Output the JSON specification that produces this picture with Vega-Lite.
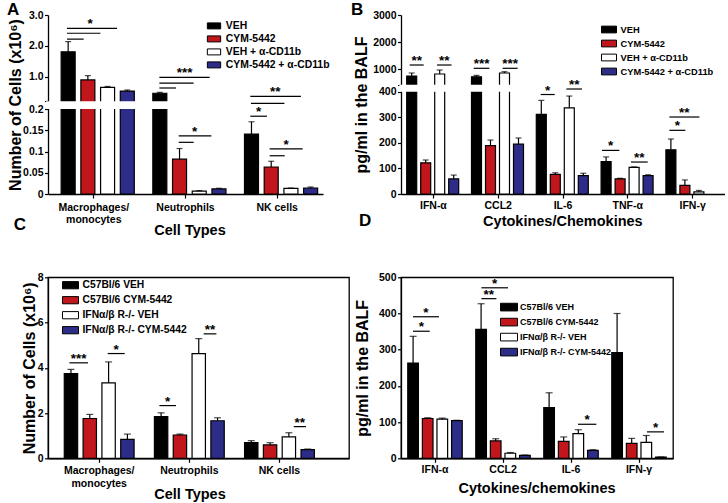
{
  "$schema": "https://vega.github.io/schema/vega-lite/v6.json",
  "background": "white",
  "padding": {"left": 7, "top": 0, "right": 0, "bottom": 2},
  "columns": 2,
  "spacing": {"row": 83.3, "column": 52},
  "bounds": "flush",
  "align": "each",
  "resolve": {"scale": {"color": "independent", "x": "independent", "y": "independent", "xOffset": "independent"}, "legend": {"color": "independent"}},
  "datasets": {
    "A": [
      {"g": "Macrophages/monocytes", "s": "VEH", "v": 1.81, "e": 2.14},
      {"g": "Macrophages/monocytes", "s": "CYM-5442", "v": 0.9, "e": 1.04},
      {"g": "Macrophages/monocytes", "s": "VEH + α-CD11b", "v": 0.66, "e": 0.69},
      {"g": "Macrophages/monocytes", "s": "CYM-5442 + α-CD11b", "v": 0.54, "e": 0.575},
      {"g": "Neutrophils", "s": "VEH", "v": 0.47, "e": 0.5},
      {"g": "Neutrophils", "s": "CYM-5442", "v": 0.082, "e": 0.107},
      {"g": "Neutrophils", "s": "VEH + α-CD11b", "v": 0.007, "e": 0.008},
      {"g": "Neutrophils", "s": "CYM-5442 + α-CD11b", "v": 0.012, "e": 0.0135},
      {"g": "NK cells", "s": "VEH", "v": 0.141, "e": 0.17},
      {"g": "NK cells", "s": "CYM-5442", "v": 0.0635, "e": 0.077},
      {"g": "NK cells", "s": "VEH + α-CD11b", "v": 0.0134, "e": 0.014},
      {"g": "NK cells", "s": "CYM-5442 + α-CD11b", "v": 0.0141, "e": 0.0165}
    ],
    "Abr": [
      {"x1": 0.207, "x2": 0.753, "y": 2.57, "t": "*", "xt": 0.46},
      {"x1": 0.207, "x2": 0.572, "y": 2.41},
      {"x1": 0.207, "x2": 0.389, "y": 2.22},
      {"x1": 1.215, "x2": 1.764, "y": 0.986, "t": "***", "xt": 1.49},
      {"x1": 1.215, "x2": 1.589, "y": 0.8},
      {"x1": 1.215, "x2": 1.396, "y": 0.64},
      {"x1": 1.426, "x2": 1.782, "y": 0.137, "t": "*", "xt": 1.6},
      {"x1": 1.426, "x2": 1.589, "y": 0.1216},
      {"x1": 2.207, "x2": 2.759, "y": 0.372, "t": "**", "xt": 2.48},
      {"x1": 2.214, "x2": 2.579, "y": 0.2074},
      {"x1": 2.207, "x2": 2.389, "y": 0.183, "t": "*", "xt": 2.298},
      {"x1": 2.418, "x2": 2.778, "y": 0.106, "t": "*", "xt": 2.598},
      {"x1": 2.418, "x2": 2.582, "y": 0.09}
    ],
    "Amask": [{"x1": -0.02, "x2": 3, "lo": 0.2, "hi": 0.21}],
    "B": [
      {"g": "IFN-α", "s": "VEH", "v": 742, "e": 853},
      {"g": "IFN-α", "s": "CYM-5442", "v": 122, "e": 133},
      {"g": "IFN-α", "s": "VEH + α-CD11b", "v": 816, "e": 964},
      {"g": "IFN-α", "s": "CYM-5442 + α-CD11b", "v": 59, "e": 74},
      {"g": "CCL2", "s": "VEH", "v": 715, "e": 765},
      {"g": "CCL2", "s": "CYM-5442", "v": 189, "e": 211},
      {"g": "CCL2", "s": "VEH + α-CD11b", "v": 853, "e": 901},
      {"g": "CCL2", "s": "CYM-5442 + α-CD11b", "v": 195, "e": 219},
      {"g": "IL-6", "s": "VEH", "v": 311, "e": 366},
      {"g": "IL-6", "s": "CYM-5442", "v": 77, "e": 83},
      {"g": "IL-6", "s": "VEH + α-CD11b", "v": 337, "e": 383},
      {"g": "IL-6", "s": "CYM-5442 + α-CD11b", "v": 72, "e": 81},
      {"g": "TNF-α", "s": "VEH", "v": 127, "e": 145},
      {"g": "TNF-α", "s": "CYM-5442", "v": 59, "e": 61.5},
      {"g": "TNF-α", "s": "VEH + α-CD11b", "v": 104, "e": 106},
      {"g": "TNF-α", "s": "CYM-5442 + α-CD11b", "v": 72, "e": 75},
      {"g": "IFN-γ", "s": "VEH", "v": 173, "e": 215},
      {"g": "IFN-γ", "s": "CYM-5442", "v": 34, "e": 55},
      {"g": "IFN-γ", "s": "VEH + α-CD11b", "v": 8, "e": 14}
    ],
    "Bbr": [
      {"x1": 0.134, "x2": 0.35, "y": 1149, "t": "**", "xt": 0.242},
      {"x1": 0.556, "x2": 0.78, "y": 1149, "t": "**", "xt": 0.668},
      {"x1": 1.122, "x2": 1.364, "y": 1027, "t": "***", "xt": 1.243},
      {"x1": 1.569, "x2": 1.8, "y": 1027, "t": "***", "xt": 1.685},
      {"x1": 2.156, "x2": 2.372, "y": 389, "t": "*", "xt": 2.264},
      {"x1": 2.552, "x2": 2.793, "y": 407.7, "t": "**", "xt": 2.672},
      {"x1": 3.102, "x2": 3.37, "y": 170.5, "t": "*", "xt": 3.236},
      {"x1": 3.549, "x2": 3.807, "y": 125, "t": "**", "xt": 3.678},
      {"x1": 4.142, "x2": 4.605, "y": 301, "t": "**", "xt": 4.373},
      {"x1": 4.142, "x2": 4.389, "y": 249, "t": "*", "xt": 4.265}
    ],
    "Bmask": [{"x1": -0.025, "x2": 5, "lo": 400, "hi": 420}],
    "C": [
      {"g": "Macrophages/monocytes", "s": "C57Bl/6 VEH", "v": 3.74, "e": 3.93},
      {"g": "Macrophages/monocytes", "s": "C57Bl/6 CYM-5442", "v": 1.76, "e": 1.94},
      {"g": "Macrophages/monocytes", "s": "IFNα/β R-/- VEH", "v": 3.33, "e": 4.26},
      {"g": "Macrophages/monocytes", "s": "IFNα/β R-/- CYM-5442", "v": 0.84, "e": 1.07},
      {"g": "Neutrophils", "s": "C57Bl/6 VEH", "v": 1.84, "e": 2.01},
      {"g": "Neutrophils", "s": "C57Bl/6 CYM-5442", "v": 1.03, "e": 1.07},
      {"g": "Neutrophils", "s": "IFNα/β R-/- VEH", "v": 4.63, "e": 5.29},
      {"g": "Neutrophils", "s": "IFNα/β R-/- CYM-5442", "v": 1.66, "e": 1.79},
      {"g": "NK cells", "s": "C57Bl/6 VEH", "v": 0.69, "e": 0.78},
      {"g": "NK cells", "s": "C57Bl/6 CYM-5442", "v": 0.59, "e": 0.69},
      {"g": "NK cells", "s": "IFNα/β R-/- VEH", "v": 0.95, "e": 1.13},
      {"g": "NK cells", "s": "IFNα/β R-/- CYM-5442", "v": 0.38, "e": 0.41}
    ],
    "Cbr": [
      {"x1": 0.17, "x2": 0.376, "y": 4.22, "t": "***", "xt": 0.273},
      {"x1": 0.595, "x2": 0.783, "y": 4.63, "t": "*", "xt": 0.689},
      {"x1": 1.168, "x2": 1.352, "y": 2.33, "t": "*", "xt": 1.26},
      {"x1": 1.659, "x2": 1.8, "y": 5.5, "t": "**", "xt": 1.73},
      {"x1": 2.658, "x2": 2.794, "y": 1.4, "t": "**", "xt": 2.726}
    ],
    "D": [
      {"g": "IFN-α", "s": "C57Bl/6 VEH", "v": 263, "e": 337},
      {"g": "IFN-α", "s": "C57Bl/6 CYM-5442", "v": 110, "e": 112},
      {"g": "IFN-α", "s": "IFNα/β R-/- VEH", "v": 108, "e": 111},
      {"g": "IFN-α", "s": "IFNα/β R-/- CYM-5442", "v": 104, "e": 105},
      {"g": "CCL2", "s": "C57Bl/6 VEH", "v": 356, "e": 427},
      {"g": "CCL2", "s": "C57Bl/6 CYM-5442", "v": 48, "e": 54},
      {"g": "CCL2", "s": "IFNα/β R-/- VEH", "v": 14, "e": 16},
      {"g": "CCL2", "s": "IFNα/β R-/- CYM-5442", "v": 8, "e": 9},
      {"g": "IL-6", "s": "C57Bl/6 VEH", "v": 140, "e": 181},
      {"g": "IL-6", "s": "C57Bl/6 CYM-5442", "v": 47, "e": 59},
      {"g": "IL-6", "s": "IFNα/β R-/- VEH", "v": 68, "e": 79},
      {"g": "IL-6", "s": "IFNα/β R-/- CYM-5442", "v": 22, "e": 23.5},
      {"g": "IFN-γ", "s": "C57Bl/6 VEH", "v": 292, "e": 400},
      {"g": "IFN-γ", "s": "C57Bl/6 CYM-5442", "v": 41, "e": 55},
      {"g": "IFN-γ", "s": "IFNα/β R-/- VEH", "v": 44, "e": 63},
      {"g": "IFN-γ", "s": "IFNα/β R-/- CYM-5442", "v": 3, "e": 3.5}
    ],
    "Dbr": [
      {"x1": 0.176, "x2": 0.422, "y": 351, "t": "*", "xt": 0.3},
      {"x1": 0.176, "x2": 0.559, "y": 391, "t": "*", "xt": 0.367},
      {"x1": 1.182, "x2": 1.403, "y": 441, "t": "**", "xt": 1.29},
      {"x1": 1.182, "x2": 1.574, "y": 471, "t": "*", "xt": 1.378},
      {"x1": 2.603, "x2": 2.873, "y": 94, "t": "*", "xt": 2.738},
      {"x1": 3.618, "x2": 3.868, "y": 73, "t": "*", "xt": 3.743}
    ]
  },
  "concat": [
    {
      "width": 275, "height": 179,
      "title": {"text": "A", "dx": -41, "offset": -8.5},
      "layer": [
        {
          "data": {"name": "A"},
          "layer": [
            {"mark": {"type": "bar", "stroke": "black", "strokeWidth": 1.2},
             "encoding": {
               "x": {"field": "g", "type": "nominal", "scale": {"domain": ["Macrophages/monocytes", "Neutrophils", "NK cells"], "paddingInner": 0, "paddingOuter": 0},
                     "axis": {"title": "Cell Types", "labelOverlap": false, "labelExpr": "datum.value == 'Macrophages/monocytes' ? ['Macrophages/', 'monocytes'] : datum.value", "labelPadding": 4, "titleX": 141.5, "titleY": 40}},
               "xOffset": {"field": "s", "type": "nominal", "scale": {"domain": ["VEH", "CYM-5442", "VEH + α-CD11b", "CYM-5442 + α-CD11b"], "paddingInner": 0.29, "paddingOuter": 0.47, "align": 0.71}},
               "y": {"field": "v", "type": "quantitative", "scale": {"domain": [0, 0.2, 0.21, 3], "range": [179, 94, 86.3, 0], "nice": false, "zero": false},
                     "axis": {"title": "Number of Cells (x10⁶)", "labelOverlap": false, "tickCount": 30, "values": [0, 0.05, 0.1, 0.15, 0.2, 0.21, 1, 2, 3], "labelExpr": "datum.value == 0.21 ? '' : (datum.value >= 1 ? format(datum.value, '.1f') : format(datum.value, '~g'))", "titleX": -27.8, "titleY": 89.5}},
               "color": {"field": "s", "type": "nominal", "scale": {"domain": ["VEH", "CYM-5442", "VEH + α-CD11b", "CYM-5442 + α-CD11b"], "range": ["#000000", "#c1161c", "#ffffff", "#2d2c88"]},
                         "legend": {"title": null, "orient": "none", "legendX": 158.5, "legendY": 3.4, "symbolSize": 177, "labelFontSize": 10.4, "rowPadding": -1.5, "labelOffset": 4.3, "symbolStrokeColor": "black", "symbolStrokeWidth": 1}}
             }},
            {"mark": {"type": "rule", "strokeWidth": 1.2, "color": "black"},
             "encoding": {
               "x": {"field": "g", "type": "nominal", "scale": {"domain": ["Macrophages/monocytes", "Neutrophils", "NK cells"], "paddingInner": 0, "paddingOuter": 0}},
               "xOffset": {"field": "s", "type": "nominal", "scale": {"domain": ["VEH", "CYM-5442", "VEH + α-CD11b", "CYM-5442 + α-CD11b"], "paddingInner": 0.29, "paddingOuter": 0.47, "align": 0.71}},
               "y": {"field": "v", "type": "quantitative", "scale": {"domain": [0, 0.2, 0.21, 3], "range": [179, 94, 86.3, 0], "nice": false, "zero": false}},
               "y2": {"field": "e"}
             }},
            {"mark": {"type": "tick", "thickness": 1.2, "size": 6, "color": "black"},
             "encoding": {
               "x": {"field": "g", "type": "nominal", "scale": {"domain": ["Macrophages/monocytes", "Neutrophils", "NK cells"], "paddingInner": 0, "paddingOuter": 0}},
               "xOffset": {"field": "s", "type": "nominal", "scale": {"domain": ["VEH", "CYM-5442", "VEH + α-CD11b", "CYM-5442 + α-CD11b"], "paddingInner": 0.29, "paddingOuter": 0.47, "align": 0.71}},
               "y": {"field": "e", "type": "quantitative", "scale": {"domain": [0, 0.2, 0.21, 3], "range": [179, 94, 86.3, 0], "nice": false, "zero": false}}
             }}
          ]
        },
        {
          "layer": [
            {"data": {"name": "Amask"}, "mark": {"type": "rect", "fill": "white"},
             "encoding": {
               "x": {"field": "x1", "type": "quantitative", "scale": {"domain": [0, 3], "nice": false, "zero": false}, "axis": null},
               "x2": {"field": "x2"},
               "y": {"field": "lo", "type": "quantitative", "scale": {"domain": [0, 0.2, 0.21, 3], "range": [179, 94, 86.3, 0], "nice": false, "zero": false}},
               "y2": {"field": "hi"}
             }},
            {"data": {"name": "Abr"}, "mark": {"type": "rule", "strokeWidth": 1.2, "color": "black"},
             "encoding": {
               "x": {"field": "x1", "type": "quantitative", "scale": {"domain": [0, 3], "nice": false, "zero": false}, "axis": null},
               "x2": {"field": "x2"},
               "y": {"field": "y", "type": "quantitative", "scale": {"domain": [0, 0.2, 0.21, 3], "range": [179, 94, 86.3, 0], "nice": false, "zero": false}}
             }},
            {"data": {"name": "Abr"}, "transform": [{"filter": "datum.t"}],
             "mark": {"type": "text", "fontSize": 13.5, "fontWeight": "bold", "baseline": "alphabetic", "align": "center", "color": "black"},
             "encoding": {
               "x": {"field": "xt", "type": "quantitative", "scale": {"domain": [0, 3], "nice": false, "zero": false}, "axis": null},
               "y": {"field": "y", "type": "quantitative", "scale": {"domain": [0, 0.2, 0.21, 3], "range": [179, 94, 86.3, 0], "nice": false, "zero": false}},
               "text": {"field": "t"}
             }}
          ]
        }
      ],
      "resolve": {"scale": {"x": "independent"}, "axis": {"x": "independent"}}
    },
    {
      "width": 324, "height": 179,
      "title": {"text": "B", "dx": -50, "offset": -8.5},
      "layer": [
        {
          "data": {"name": "B"},
          "layer": [
            {"mark": {"type": "bar", "stroke": "black", "strokeWidth": 1.2},
             "encoding": {
               "x": {"field": "g", "type": "nominal", "scale": {"domain": ["IFN-α", "CCL2", "IL-6", "TNF-α", "IFN-γ"], "paddingInner": 0, "paddingOuter": 0},
                     "axis": {"title": "Cytokines/Chemokines", "labelOverlap": false, "labelPadding": 2.5, "titleX": 161.4, "titleY": 31}},
               "xOffset": {"field": "s", "type": "nominal", "scale": {"domain": ["VEH", "CYM-5442", "VEH + α-CD11b", "CYM-5442 + α-CD11b"], "paddingInner": 0.286, "paddingOuter": 0.457, "align": 0.445}},
               "y": {"field": "v", "type": "quantitative", "scale": {"domain": [0, 400, 420, 3000], "range": [179, 76.7, 69.7, 0], "nice": false, "zero": false},
                     "axis": {"title": "pg/ml in the BALF", "labelOverlap": false, "tickCount": 30, "values": [0, 100, 200, 300, 400, 420, 1000, 2000, 3000], "labelExpr": "datum.value == 420 ? '' : format(datum.value, 'd')", "titleX": -34.3, "titleY": 89.5}},
               "color": {"field": "s", "type": "nominal", "scale": {"domain": ["VEH", "CYM-5442", "VEH + α-CD11b", "CYM-5442 + α-CD11b"], "range": ["#000000", "#c1161c", "#ffffff", "#2d2c88"]},
                         "legend": {"title": null, "orient": "none", "legendX": 200, "legendY": 6.5, "symbolSize": 225, "labelFontSize": 9.3, "rowPadding": -3, "labelOffset": 3.5, "symbolStrokeColor": "black", "symbolStrokeWidth": 1}}
             }},
            {"mark": {"type": "rule", "strokeWidth": 1.2, "color": "black"},
             "encoding": {
               "x": {"field": "g", "type": "nominal", "scale": {"domain": ["IFN-α", "CCL2", "IL-6", "TNF-α", "IFN-γ"], "paddingInner": 0, "paddingOuter": 0}},
               "xOffset": {"field": "s", "type": "nominal", "scale": {"domain": ["VEH", "CYM-5442", "VEH + α-CD11b", "CYM-5442 + α-CD11b"], "paddingInner": 0.286, "paddingOuter": 0.457, "align": 0.445}},
               "y": {"field": "v", "type": "quantitative", "scale": {"domain": [0, 400, 420, 3000], "range": [179, 76.7, 69.7, 0], "nice": false, "zero": false}},
               "y2": {"field": "e"}
             }},
            {"mark": {"type": "tick", "thickness": 1.2, "size": 6, "color": "black"},
             "encoding": {
               "x": {"field": "g", "type": "nominal", "scale": {"domain": ["IFN-α", "CCL2", "IL-6", "TNF-α", "IFN-γ"], "paddingInner": 0, "paddingOuter": 0}},
               "xOffset": {"field": "s", "type": "nominal", "scale": {"domain": ["VEH", "CYM-5442", "VEH + α-CD11b", "CYM-5442 + α-CD11b"], "paddingInner": 0.286, "paddingOuter": 0.457, "align": 0.445}},
               "y": {"field": "e", "type": "quantitative", "scale": {"domain": [0, 400, 420, 3000], "range": [179, 76.7, 69.7, 0], "nice": false, "zero": false}}
             }}
          ]
        },
        {
          "layer": [
            {"data": {"name": "Bmask"}, "mark": {"type": "rect", "fill": "white"},
             "encoding": {
               "x": {"field": "x1", "type": "quantitative", "scale": {"domain": [0, 5], "nice": false, "zero": false}, "axis": null},
               "x2": {"field": "x2"},
               "y": {"field": "lo", "type": "quantitative", "scale": {"domain": [0, 400, 420, 3000], "range": [179, 76.7, 69.7, 0], "nice": false, "zero": false}},
               "y2": {"field": "hi"}
             }},
            {"data": {"name": "Bbr"}, "mark": {"type": "rule", "strokeWidth": 1.2, "color": "black"},
             "encoding": {
               "x": {"field": "x1", "type": "quantitative", "scale": {"domain": [0, 5], "nice": false, "zero": false}, "axis": null},
               "x2": {"field": "x2"},
               "y": {"field": "y", "type": "quantitative", "scale": {"domain": [0, 400, 420, 3000], "range": [179, 76.7, 69.7, 0], "nice": false, "zero": false}}
             }},
            {"data": {"name": "Bbr"}, "transform": [{"filter": "datum.t"}],
             "mark": {"type": "text", "fontSize": 13.5, "fontWeight": "bold", "baseline": "alphabetic", "align": "center", "color": "black"},
             "encoding": {
               "x": {"field": "xt", "type": "quantitative", "scale": {"domain": [0, 5], "nice": false, "zero": false}, "axis": null},
               "y": {"field": "y", "type": "quantitative", "scale": {"domain": [0, 400, 420, 3000], "range": [179, 76.7, 69.7, 0], "nice": false, "zero": false}},
               "text": {"field": "t"}
             }}
          ]
        }
      ],
      "resolve": {"scale": {"x": "independent"}, "axis": {"x": "independent"}}
    },
    {
      "width": 301, "height": 181,
      "view": {"stroke": "black", "strokeWidth": 1.3},
      "title": {"text": "C", "dx": -34.3, "offset": 12, "dy": -26},
      "layer": [
        {
          "data": {"name": "C"},
          "layer": [
            {"mark": {"type": "bar", "stroke": "black", "strokeWidth": 1.2},
             "encoding": {
               "x": {"field": "g", "type": "nominal", "scale": {"domain": ["Macrophages/monocytes", "Neutrophils", "NK cells"], "paddingInner": 0, "paddingOuter": 0.1695, "align": 0.2},
                     "axis": {"title": "Cell Types", "labelOverlap": false, "labelExpr": "datum.value == 'Macrophages/monocytes' ? ['Macrophages/', 'monocytes'] : datum.value", "labelPadding": 3.2, "titleX": 141.5, "titleY": 40}},
               "xOffset": {"field": "s", "type": "nominal", "scale": {"domain": ["C57Bl/6 VEH", "C57Bl/6 CYM-5442", "IFNα/β R-/- VEH", "IFNα/β R-/- CYM-5442"], "paddingInner": 0.29, "paddingOuter": 0.54, "align": 0.5}},
               "y": {"field": "v", "type": "quantitative", "scale": {"domain": [0, 8], "nice": false, "zero": false},
                     "axis": {"title": "Number of Cells (x10⁶)", "labelOverlap": false, "tickCount": 30, "format": "d", "values": [0, 2, 4, 6, 8], "titleX": -13.5, "titleY": 90.5}},
               "color": {"field": "s", "type": "nominal", "scale": {"domain": ["C57Bl/6 VEH", "C57Bl/6 CYM-5442", "IFNα/β R-/- VEH", "IFNα/β R-/- CYM-5442"], "range": ["#000000", "#c1161c", "#ffffff", "#2d2c88"]},
                         "legend": {"title": null, "orient": "none", "legendX": 14, "legendY": -0.6, "symbolSize": 256, "labelFontSize": 10.3, "rowPadding": -2.8, "labelOffset": 3.5, "symbolStrokeColor": "black", "symbolStrokeWidth": 1}}
             }},
            {"mark": {"type": "rule", "strokeWidth": 1.2, "color": "black"},
             "encoding": {
               "x": {"field": "g", "type": "nominal", "scale": {"domain": ["Macrophages/monocytes", "Neutrophils", "NK cells"], "paddingInner": 0, "paddingOuter": 0.1695, "align": 0.2}},
               "xOffset": {"field": "s", "type": "nominal", "scale": {"domain": ["C57Bl/6 VEH", "C57Bl/6 CYM-5442", "IFNα/β R-/- VEH", "IFNα/β R-/- CYM-5442"], "paddingInner": 0.29, "paddingOuter": 0.54, "align": 0.5}},
               "y": {"field": "v", "type": "quantitative", "scale": {"domain": [0, 8], "nice": false, "zero": false}},
               "y2": {"field": "e"}
             }},
            {"mark": {"type": "tick", "thickness": 1.2, "size": 7, "color": "black"},
             "encoding": {
               "x": {"field": "g", "type": "nominal", "scale": {"domain": ["Macrophages/monocytes", "Neutrophils", "NK cells"], "paddingInner": 0, "paddingOuter": 0.1695, "align": 0.2}},
               "xOffset": {"field": "s", "type": "nominal", "scale": {"domain": ["C57Bl/6 VEH", "C57Bl/6 CYM-5442", "IFNα/β R-/- VEH", "IFNα/β R-/- CYM-5442"], "paddingInner": 0.29, "paddingOuter": 0.54, "align": 0.5}},
               "y": {"field": "e", "type": "quantitative", "scale": {"domain": [0, 8], "nice": false, "zero": false}}
             }}
          ]
        },
        {
          "layer": [
            {"data": {"name": "Cbr"}, "mark": {"type": "rule", "strokeWidth": 1.2, "color": "black"},
             "encoding": {
               "x": {"field": "x1", "type": "quantitative", "scale": {"domain": [-0.0677, 3.271], "nice": false, "zero": false}, "axis": null},
               "x2": {"field": "x2"},
               "y": {"field": "y", "type": "quantitative", "scale": {"domain": [0, 8], "nice": false, "zero": false}}
             }},
            {"data": {"name": "Cbr"},
             "mark": {"type": "text", "fontSize": 13.5, "fontWeight": "bold", "baseline": "alphabetic", "align": "center", "color": "black"},
             "encoding": {
               "x": {"field": "xt", "type": "quantitative", "scale": {"domain": [-0.0677, 3.271], "nice": false, "zero": false}, "axis": null},
               "y": {"field": "y", "type": "quantitative", "scale": {"domain": [0, 8], "nice": false, "zero": false}},
               "text": {"field": "t"}
             }}
          ]
        }
      ],
      "resolve": {"scale": {"x": "independent"}, "axis": {"x": "independent"}}
    },
    {
      "width": 272, "height": 181,
      "view": {"stroke": "black", "strokeWidth": 1.3},
      "title": {"text": "D", "dx": -42, "offset": 12, "dy": -30},
      "layer": [
        {
          "data": {"name": "D"},
          "layer": [
            {"mark": {"type": "bar", "stroke": "black", "strokeWidth": 1.2},
             "encoding": {
               "x": {"field": "g", "type": "nominal", "scale": {"domain": ["IFN-α", "CCL2", "IL-6", "IFN-γ"], "paddingInner": 0, "paddingOuter": 0},
                     "axis": {"title": "Cytokines/chemokines", "labelOverlap": false, "labelPadding": 2.5, "titleX": 135.5, "titleY": 34}},
               "xOffset": {"field": "s", "type": "nominal", "scale": {"domain": ["C57Bl/6 VEH", "C57Bl/6 CYM-5442", "IFNα/β R-/- VEH", "IFNα/β R-/- CYM-5442"], "paddingInner": 0.27, "paddingOuter": 0.464, "align": 0.5}},
               "y": {"field": "v", "type": "quantitative", "scale": {"domain": [0, 500], "nice": false, "zero": false},
                     "axis": {"title": "pg/ml in the BALF", "labelOverlap": false, "tickCount": 30, "format": "d", "values": [0, 100, 200, 300, 400, 500], "titleX": -33.3, "titleY": 90.5}},
               "color": {"field": "s", "type": "nominal", "scale": {"domain": ["C57Bl/6 VEH", "C57Bl/6 CYM-5442", "IFNα/β R-/- VEH", "IFNα/β R-/- CYM-5442"], "range": ["#000000", "#c1161c", "#ffffff", "#2d2c88"]},
                         "legend": {"title": null, "orient": "none", "legendX": 99, "legendY": 20.8, "symbolSize": 289, "labelFontSize": 9, "rowPadding": -5.8, "labelOffset": 2, "symbolStrokeColor": "black", "symbolStrokeWidth": 1}}
             }},
            {"mark": {"type": "rule", "strokeWidth": 1.2, "color": "black"},
             "encoding": {
               "x": {"field": "g", "type": "nominal", "scale": {"domain": ["IFN-α", "CCL2", "IL-6", "IFN-γ"], "paddingInner": 0, "paddingOuter": 0}},
               "xOffset": {"field": "s", "type": "nominal", "scale": {"domain": ["C57Bl/6 VEH", "C57Bl/6 CYM-5442", "IFNα/β R-/- VEH", "IFNα/β R-/- CYM-5442"], "paddingInner": 0.27, "paddingOuter": 0.464, "align": 0.5}},
               "y": {"field": "v", "type": "quantitative", "scale": {"domain": [0, 500], "nice": false, "zero": false}},
               "y2": {"field": "e"}
             }},
            {"mark": {"type": "tick", "thickness": 1.2, "size": 7, "color": "black"},
             "encoding": {
               "x": {"field": "g", "type": "nominal", "scale": {"domain": ["IFN-α", "CCL2", "IL-6", "IFN-γ"], "paddingInner": 0, "paddingOuter": 0}},
               "xOffset": {"field": "s", "type": "nominal", "scale": {"domain": ["C57Bl/6 VEH", "C57Bl/6 CYM-5442", "IFNα/β R-/- VEH", "IFNα/β R-/- CYM-5442"], "paddingInner": 0.27, "paddingOuter": 0.464, "align": 0.5}},
               "y": {"field": "e", "type": "quantitative", "scale": {"domain": [0, 500], "nice": false, "zero": false}}
             }}
          ]
        },
        {
          "layer": [
            {"data": {"name": "Dbr"}, "mark": {"type": "rule", "strokeWidth": 1.2, "color": "black"},
             "encoding": {
               "x": {"field": "x1", "type": "quantitative", "scale": {"domain": [0, 4], "nice": false, "zero": false}, "axis": null},
               "x2": {"field": "x2"},
               "y": {"field": "y", "type": "quantitative", "scale": {"domain": [0, 500], "nice": false, "zero": false}}
             }},
            {"data": {"name": "Dbr"},
             "mark": {"type": "text", "fontSize": 13.5, "fontWeight": "bold", "baseline": "alphabetic", "align": "center", "color": "black"},
             "encoding": {
               "x": {"field": "xt", "type": "quantitative", "scale": {"domain": [0, 4], "nice": false, "zero": false}, "axis": null},
               "y": {"field": "y", "type": "quantitative", "scale": {"domain": [0, 500], "nice": false, "zero": false}},
               "text": {"field": "t"}
             }}
          ]
        }
      ],
      "resolve": {"scale": {"x": "independent"}, "axis": {"x": "independent"}}
    }
  ],
  "config": {
    "font": "Liberation Sans",
    "view": {"stroke": null},
    "axis": {"domainColor": "black", "domainWidth": 1.3, "tickColor": "black", "tickWidth": 1.2, "tickSize": 3.5, "labelFont": "Liberation Sans", "labelFontWeight": "bold", "labelFontSize": 10.5, "labelColor": "black", "labelPadding": 1.5, "labelOverlap": false, "titleFont": "Liberation Sans", "titleFontWeight": "bold", "titleColor": "black", "grid": false},
    "axisX": {"labelAngle": 0, "tickSize": 4, "titleFontSize": 14.5, "titleBaseline": "alphabetic", "labelLineHeight": 12.5},
    "axisY": {"titleFontSize": 16, "titleBaseline": "alphabetic"},
    "legend": {"labelFont": "Liberation Sans", "labelFontWeight": "bold", "labelColor": "black", "symbolType": "M-1,-0.45H1V0.45H-1Z", "padding": 0, "labelLimit": 300},
    "title": {"font": "Liberation Sans", "fontSize": 17, "fontWeight": "bold", "color": "black", "anchor": "start", "frame": "group", "baseline": "alphabetic"}
  }
}
